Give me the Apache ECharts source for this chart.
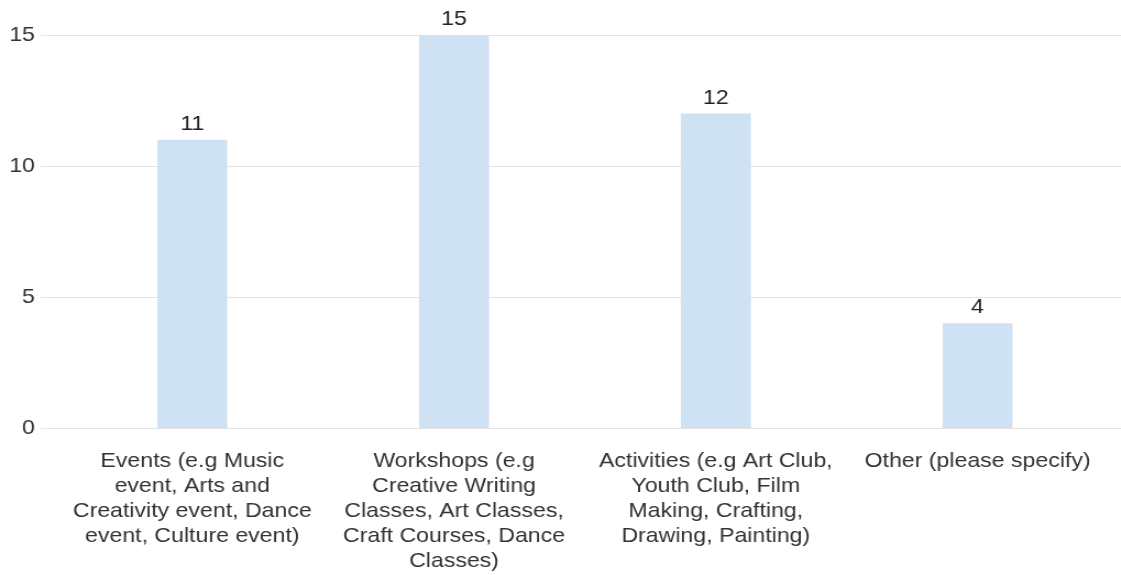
<!DOCTYPE html>
<html>
<head>
<meta charset="utf-8">
<script src="https://cdn.jsdelivr.net/npm/echarts@6/dist/echarts.min.js"></script>
<style>
  html, body { margin: 0; padding: 0; background: #fff; overflow: hidden; }
  /* the chart is laid out on a narrower canvas and widened, giving the broad lettering */
  #chart { width: 1019px; height: 575px; transform: scaleX(1.1); transform-origin: 0 0; }
</style>
</head>
<body>
<div id="chart"></div>
<script>
// Response categories (line breaks as shown under each bar)
const categories = [
  'Events (e.g Music\nevent, Arts and\nCreativity event, Dance\nevent, Culture event)',
  'Workshops (e.g\nCreative Writing\nClasses, Art Classes,\nCraft Courses, Dance\nClasses)',
  'Activities (e.g Art Club,\nYouth Club, Film\nMaking, Crafting,\nDrawing, Painting)',
  'Other (please specify)'
];
// Number of responses per category
const counts = [11, 15, 12, 4];
// Value axis range and step
const yMin = 0, yMax = 15, yStep = 5;

const FONT = '"Liberation Sans", Arial, sans-serif';
const chart = echarts.init(document.getElementById('chart'), null, { renderer: 'canvas' });

chart.setOption({
  animation: false,
  backgroundColor: '#ffffff',
  textStyle: { fontFamily: FONT },
  grid: [
    // gridline / value-axis area
    { left: 37.3, right: 0, top: 35, bottom: 147 },
    // bar area
    { left: 55.8, right: 11.3, top: 35, bottom: 147 }
  ],
  xAxis: [
    { gridIndex: 0, type: 'category', data: categories, show: false },
    {
      gridIndex: 1, type: 'category', data: categories,
      axisLine: { show: false }, axisTick: { show: false },
      axisLabel: {
        interval: 0, margin: 21, color: '#333333',
        fontFamily: FONT, fontSize: 21, lineHeight: 25, align: 'center'
      }
    }
  ],
  yAxis: [
    {
      gridIndex: 0, type: 'value', min: yMin, max: yMax, interval: yStep,
      axisLine: { show: false }, axisTick: { show: false },
      axisLabel: { margin: 5.5, color: '#333333', fontFamily: FONT, fontSize: 21 },
      splitLine: { lineStyle: { color: '#e3e3e3', width: 1 } }
    },
    {
      gridIndex: 1, type: 'value', min: yMin, max: yMax, interval: yStep,
      show: false, splitLine: { show: false }
    }
  ],
  series: [{
    type: 'bar',
    xAxisIndex: 1, yAxisIndex: 1,
    data: counts,
    barWidth: 63.6,
    itemStyle: { color: '#cfe2f3' },
    label: {
      show: true, position: 'top', distance: 5,
      color: '#222222', fontFamily: FONT, fontSize: 21
    }
  }]
});
</script>
</body>
</html>
